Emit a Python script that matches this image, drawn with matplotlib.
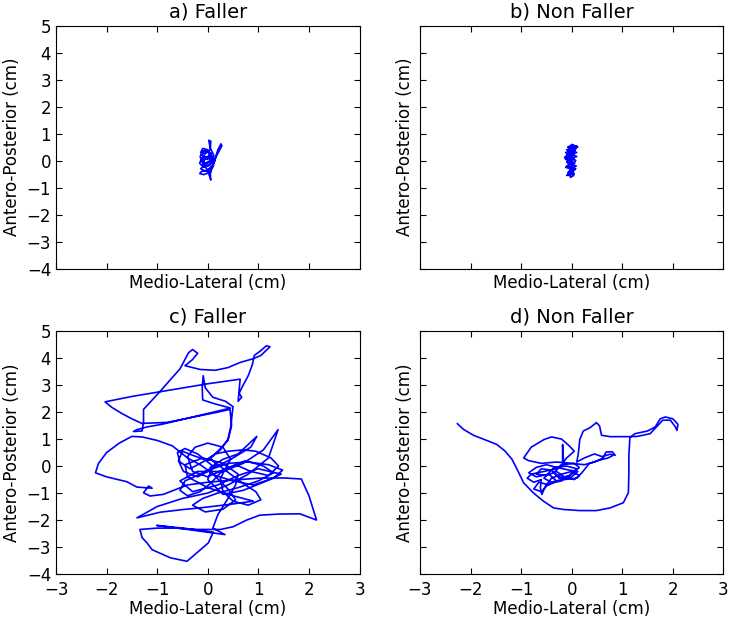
import matplotlib
matplotlib.use("Agg")
import matplotlib.pyplot as plt
import numpy as np

titles = ['a) Faller', 'b) Non Faller', 'c) Faller', 'd) Non Faller']
xlab = 'Medio-Lateral (cm)'
ylab = 'Antero-Posterior (cm)'

# COP trajectories (ML, AP) in cm
path_a = np.array([
    (0.00, 0.05), (-0.08, 0.20), (-0.12, 0.05), (-0.05, -0.10), (0.05, 0.00),
    (0.02, 0.30), (-0.10, 0.35), (-0.15, 0.15), (-0.12, -0.05), (0.00, -0.20),
    (0.10, -0.05), (0.12, 0.20), (0.05, 0.45), (0.02, 0.75), (0.06, 0.72),
    (0.05, 0.40), (-0.05, 0.25), (-0.14, 0.30), (-0.10, 0.45), (0.00, 0.40),
    (0.08, 0.15), (0.05, -0.15), (-0.08, -0.25), (-0.16, -0.10), (-0.12, 0.10),
    (0.02, 0.10), (0.12, -0.08), (0.18, 0.20), (0.28, 0.55), (0.26, 0.62),
    (0.20, 0.40), (0.15, 0.10), (0.10, -0.15), (0.00, -0.35), (-0.12, -0.40),
    (-0.16, -0.48), (-0.08, -0.52), (0.02, -0.45), (0.08, -0.30), (0.05, -0.50),
    (0.06, -0.72), (0.04, -0.60), (-0.02, -0.30), (-0.10, -0.15), (-0.06, 0.05),
    (0.04, 0.20), (-0.04, 0.10), (-0.13, 0.22), (-0.06, 0.38), (0.06, 0.28),
    (0.10, 0.05), (-0.02, -0.12), (-0.14, -0.30), (-0.04, -0.40), (0.10, -0.25),
    (0.14, 0.00), (0.06, 0.15), (-0.10, 0.00)])

path_b = np.array([
    (0.00, 0.00), (-0.10, 0.20), (0.05, 0.35), (-0.08, 0.50), (0.02, 0.58),
    (0.08, 0.45), (-0.05, 0.30), (0.10, 0.15), (-0.12, 0.05), (0.06, -0.10),
    (-0.10, -0.20), (0.08, -0.30), (-0.06, -0.40), (0.04, -0.55), (-0.02, -0.62),
    (-0.08, -0.45), (0.06, -0.35), (-0.12, -0.25), (0.02, -0.05), (-0.14, 0.10),
    (0.04, 0.25), (-0.10, 0.40), (0.12, 0.50), (0.00, 0.60), (-0.06, 0.42),
    (0.10, 0.30), (-0.13, 0.15), (0.05, 0.05), (-0.08, -0.10), (0.09, -0.20),
    (-0.04, -0.30), (0.02, -0.45), (-0.10, -0.55), (0.05, -0.50), (-0.02, -0.25),
    (0.08, 0.00), (-0.12, 0.30), (0.06, 0.40), (-0.04, 0.52), (0.10, 0.55),
    (0.03, 0.20), (-0.10, -0.05), (0.00, -0.15)])

path_c = np.array([
    (0.05, -0.05), (0.30, 0.25), (0.60, 0.45), (0.97, 1.10), (0.85, 0.70),
    (0.50, 0.30), (0.20, 0.00),
    (0.05, 0.30), (0.25, 0.60), (0.40, 1.00), (0.46, 1.50), (0.48, 1.90),
    (0.50, 2.20), (0.35, 2.40), (0.10, 2.55), (-0.05, 2.90), (-0.09, 3.35),
    (-0.11, 2.90), (-0.10, 2.45), (0.15, 2.30), (0.45, 2.15),
    (0.00, 1.95), (-0.45, 1.75), (-0.90, 1.55), (-1.20, 1.45), (-1.40, 1.35),
    (-1.47, 1.28), (-1.30, 1.30), (-1.27, 1.60), (-1.27, 2.10),
    (-0.95, 2.75), (-0.74, 3.20), (-0.55, 3.60), (-0.38, 4.20), (-0.30, 4.32),
    (-0.20, 4.18), (-0.30, 3.95), (-0.45, 3.72), (-0.15, 3.58), (0.15, 3.55),
    (0.40, 3.65), (0.64, 3.84), (0.90, 3.98), (1.05, 4.10), (1.23, 4.42),
    (1.16, 4.46), (1.05, 4.28), (0.92, 4.10), (0.88, 3.75), (0.80, 3.35),
    (0.70, 3.00), (0.62, 2.70), (0.67, 2.55), (0.60, 2.40),
    (0.64, 3.22), (0.00, 3.05), (-0.80, 2.80), (-1.50, 2.58), (-2.03, 2.38),
    (-1.90, 2.18), (-1.70, 1.95), (-1.50, 1.75), (-1.30, 1.58), (-0.80, 1.62),
    (-0.20, 1.85), (0.20, 2.00), (0.44, 2.10),
    (0.47, 1.50), (0.40, 0.95), (0.20, 0.55), (0.00, 0.20),
    (-0.30, 0.40), (-0.50, 0.55), (-0.58, 0.20), (-0.48, -0.20), (-0.20, -0.40),
    (0.10, -0.10), (0.40, 0.10), (0.80, 0.15), (1.20, 0.05), (1.48, -0.15),
    (1.30, -0.45), (0.90, -0.70), (0.50, -0.55), (0.15, -0.35), (-0.15, 0.05),
    (-0.40, 0.30),
    (-0.70, 0.75), (-1.00, 0.95), (-1.30, 1.08), (-1.50, 1.10), (-1.75, 0.85),
    (-2.00, 0.50), (-2.16, 0.10), (-2.22, -0.25), (-2.00, -0.40), (-1.60, -0.58),
    (-1.40, -0.78), (-1.10, -0.82),
    (-1.17, -0.74), (-1.27, -0.99), (-1.14, -1.11), (-0.88, -1.05),
    (-0.40, -0.70), (0.00, -0.60), (0.50, -0.52), (1.00, -0.45), (1.50, -0.44),
    (1.85, -0.48), (2.00, -1.10), (2.15, -2.00), (1.82, -1.77), (1.40, -1.78),
    (1.03, -1.82), (0.77, -2.00), (0.50, -2.25), (0.25, -2.35),
    (-0.20, -2.35), (-0.60, -2.30), (-1.00, -2.30), (-1.34, -2.35), (-1.30, -2.65),
    (-1.20, -2.85), (-1.10, -3.10), (-0.74, -3.40), (-0.41, -3.53), (-0.22, -3.22),
    (0.01, -2.85), (0.11, -2.45),
    (-0.50, -2.30), (-1.01, -2.20), (-0.40, -2.35), (0.34, -2.54), (0.10, -2.30),
    (0.20, -1.80), (0.40, -1.20), (0.55, -0.70), (0.60, -0.30), (0.30, 0.10),
    (-0.10, 0.30), (-0.45, 0.05), (-0.40, -0.40), (0.00, -0.80), (0.50, -1.10),
    (0.90, -1.30),
    (0.44, -1.42), (-0.15, -1.55), (-0.48, -1.61), (-0.94, -1.71), (-1.40, -1.92),
    (-1.00, -1.50), (-0.50, -1.20), (0.00, -1.00), (0.40, -0.70), (0.80, -0.30),
    (1.20, 0.30), (1.39, 1.35), (1.10, 0.60), (0.70, 0.10), (0.30, -0.20),
    (-0.20, -0.20), (-0.55, -0.55), (-0.30, -0.95), (0.20, -0.70), (0.60, -0.35),
    (1.00, -0.10), (1.45, -0.30), (1.10, -0.60), (0.70, -0.90), (0.30, -1.05),
    (0.00, -0.50), (0.10, 0.00),
    (-0.20, 0.45), (-0.45, 0.65), (-0.60, 0.50), (-0.55, 0.15), (-0.35, -0.10),
    (-0.10, 0.15), (0.15, 0.45), (0.40, 0.55), (0.70, 0.60), (0.95, 0.55),
    (1.25, 0.30), (1.40, 0.00), (1.20, -0.35), (0.85, -0.20), (0.55, 0.05),
    (0.25, -0.25), (0.05, -0.65), (-0.15, -0.95), (-0.40, -1.10), (-0.55, -0.90),
    (-0.45, -0.55), (-0.15, -0.30), (0.20, 0.05), (0.45, -0.30), (0.70, -0.65),
    (0.95, -0.95), (1.05, -1.25), (0.80, -1.45), (0.50, -1.30), (0.30, -0.95),
    (0.25, -0.45), (0.45, 0.25), (0.30, 0.70), (0.00, 0.85), (-0.25, 0.70),
    (-0.40, 0.35), (-0.30, -0.20), (0.00, -0.40), (0.35, -0.10), (0.75, 0.20),
    (1.10, 0.00), (1.30, -0.25), (1.00, -0.55), (0.60, -0.80), (0.20, -1.00),
    (-0.10, -1.20), (-0.30, -1.45), (-0.05, -1.70), (0.30, -1.60), (0.55, -1.25),
    (0.40, -0.85), (0.05, -0.20)])

path_d = np.array([
    (-2.26, 1.57), (-2.14, 1.36), (-1.94, 1.14), (-1.68, 0.95), (-1.48, 0.80),
    (-1.32, 0.56), (-1.18, 0.25), (-1.08, -0.12), (-0.95, -0.62), (-0.76, -0.99),
    (-0.56, -1.30), (-0.36, -1.55), (-0.16, -1.61), (0.16, -1.65), (0.49, -1.65),
    (0.76, -1.55), (1.02, -1.36), (1.12, -0.99), (1.13, -0.30), (1.13, 0.40),
    (1.15, 1.05), (1.25, 1.20), (1.50, 1.30), (1.65, 1.45), (1.75, 1.75),
    (1.85, 1.82), (2.00, 1.75), (2.10, 1.55), (2.08, 1.32), (2.05, 1.45),
    (1.95, 1.70), (1.80, 1.70), (1.70, 1.50), (1.55, 1.20), (1.30, 1.10),
    (1.14, 1.09), (0.76, 1.09), (0.59, 1.14), (0.55, 1.49), (0.49, 1.61),
    (0.36, 1.42), (0.23, 1.30), (0.16, 0.99), (0.13, 0.45), (0.10, 0.15),
    (0.25, 0.30), (0.45, 0.45), (0.60, 0.35), (0.76, 0.44), (0.86, 0.40),
    (0.80, 0.53), (0.68, 0.52), (0.62, 0.30), (0.45, 0.15), (0.25, 0.05),
    (0.00, 0.10), (-0.30, 0.15), (-0.60, 0.10), (-0.85, 0.20), (-0.95, 0.30),
    (-0.80, 0.70), (-0.55, 0.98), (-0.40, 1.08), (-0.20, 1.00), (-0.05, 0.75),
    (0.05, 0.55), (-0.10, 0.30), (-0.18, 0.10), (-0.18, 0.80), (-0.16, 0.10),
    (-0.30, -0.10), (-0.55, -0.20), (-0.80, -0.30), (-0.88, -0.45), (-0.75, -0.60),
    (-0.60, -0.50), (-0.62, -0.80), (-0.59, -1.05), (-0.52, -0.75), (-0.40, -0.45),
    (-0.20, -0.30), (0.00, -0.20), (0.15, -0.35), (0.05, -0.50), (-0.15, -0.40),
    (-0.30, -0.20), (-0.50, -0.35), (-0.70, -0.30), (-0.60, -0.10), (-0.40, -0.15),
    (-0.25, -0.45), (-0.05, -0.35), (0.10, -0.10), (-0.10, 0.00), (-0.35, -0.05),
    (-0.55, -0.45), (-0.40, -0.60), (-0.20, -0.50), (0.00, -0.40), (0.12, -0.20),
    (-0.05, -0.15), (-0.30, -0.05), (-0.50, 0.05), (-0.70, -0.05), (-0.85, -0.25),
    (-0.70, -0.40), (-0.45, -0.30), (-0.30, -0.55), (-0.45, -0.70), (-0.65, -0.60),
    (-0.75, -0.85), (-0.60, -0.95), (-0.45, -0.65), (-0.20, -0.55), (0.00, -0.30),
    (0.15, -0.05), (0.05, 0.10), (-0.20, 0.05), (-0.35, -0.25), (-0.15, -0.50),
    (0.10, -0.45), (0.20, -0.25), (0.35, 0.10), (0.55, 0.22), (0.72, 0.30),
    (0.80, 0.38)])

paths = [path_a, path_b, path_c, path_d]

fig, axes = plt.subplots(2, 2, sharex=True, sharey=True, figsize=(7.33, 6.22), dpi=100)
fig.subplots_adjust(left=0.0764, right=0.987, bottom=0.0772, top=0.9587,
                    wspace=0.199, hspace=0.258)

for i, (ax, p, t) in enumerate(zip(axes.flat, paths, titles)):
    ax.plot(p[:, 0], p[:, 1], color='b', lw=1.2)
    ax.set_title(t, fontsize=14)
    ax.set_xlabel(xlab, fontsize=12, labelpad=4 if i < 2 else 1)
    ax.set_ylabel(ylab, fontsize=12)
    ax.tick_params(direction='in', top=True, right=True, length=4, labelsize=12)
    ax.tick_params(axis='x', pad=5)
    ax.set_xlim(-3, 3)
    ax.set_ylim(-4, 5)
    ax.set_xticks(range(-3, 4))
    ax.set_yticks(range(-4, 6))

fig.savefig('out.png', dpi=100)
